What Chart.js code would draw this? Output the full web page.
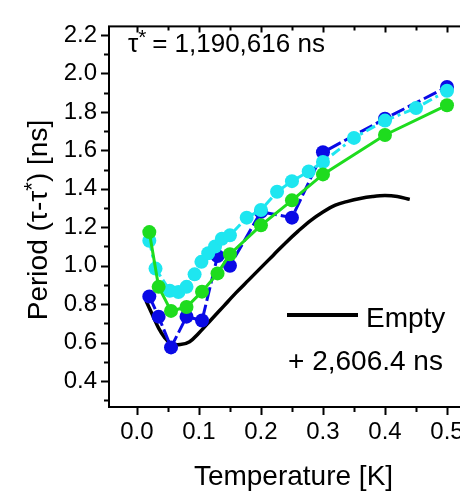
<!DOCTYPE html>
<html>
<head>
<meta charset="utf-8">
<script src="https://cdn.jsdelivr.net/npm/chart.js@4/dist/chart.umd.min.js"></script>
<style>
html, body { margin: 0; padding: 0; background: #fff; overflow: hidden; }
canvas { display: block; }
</style>
</head>
<body>
<canvas id="chart" width="490" height="492"></canvas>
<script>
var FONT = '"Liberation Sans", Arial, sans-serif';

// tick labels
var xTicks = [0.0, 0.1, 0.2, 0.3, 0.4, 0.5];
var yTicks = [0.4, 0.6, 0.8, 1.0, 1.2, 1.4, 1.6, 1.8, 2.0, 2.2];

// blue and green runs share the same temperatures
var runTemps = [0.02, 0.035, 0.055, 0.08, 0.105, 0.13, 0.15, 0.2, 0.25, 0.3, 0.4, 0.5];
var blueValues = [0.84, 0.735, 0.575, 0.735, 0.715, 1.05, 1.0, 1.28, 1.25, 1.59, 1.765, 1.93];
var greenValues = [1.175, 0.89, 0.765, 0.785, 0.865, 0.96, 1.06, 1.21, 1.34, 1.475, 1.68, 1.835];

var cyanTemps = [0.02, 0.03, 0.053, 0.067, 0.08, 0.093, 0.104, 0.115, 0.126, 0.137, 0.15,
    0.177, 0.2, 0.226, 0.25, 0.277, 0.3, 0.35, 0.4, 0.45, 0.5];
var cyanValues = [1.13, 0.985, 0.87, 0.863, 0.89, 0.955, 1.02, 1.065, 1.1, 1.14, 1.158,
    1.25, 1.29, 1.385, 1.44, 1.49, 1.54, 1.665, 1.755, 1.82, 1.91];

// empty cell (+ 2,606.4 ns)
var emptyTemps = [0.015, 0.025, 0.035, 0.045, 0.055, 0.07, 0.085, 0.1, 0.12, 0.14, 0.16, 0.18,
    0.2, 0.22, 0.24, 0.26, 0.28, 0.3, 0.32, 0.34, 0.36, 0.38, 0.4, 0.42, 0.44];
var emptyValues = [0.815, 0.745, 0.675, 0.625, 0.595, 0.59, 0.605, 0.65, 0.72, 0.79, 0.86, 0.925,
    0.99, 1.055, 1.12, 1.18, 1.235, 1.28, 1.315, 1.335, 1.35, 1.36, 1.365, 1.36, 1.345];

function pairs(xs, ys) {
    return xs.map(function (x, i) { return {x: x, y: ys[i]}; });
}

function series(data, color, dash) {
    return {
        data: data,
        borderColor: color,
        backgroundColor: color,
        borderWidth: 3,
        borderDash: dash,
        pointRadius: 7,
        pointHoverRadius: 7,
        pointBorderWidth: 0,
        pointBackgroundColor: color,
        tension: 0
    };
}

// draws text pieces in a row, pieces marked sup are raised and smaller
function drawPieces(ctx, pieces, x, y, size) {
    var total = 0;
    pieces.forEach(function (p) {
        ctx.font = (p.sup ? size * 0.8 : size) + 'px ' + FONT;
        p.w = ctx.measureText(p.t).width;
        total += p.w;
    });
    pieces.forEach(function (p) {
        ctx.font = (p.sup ? size * 0.8 : size) + 'px ' + FONT;
        ctx.fillText(p.t, x, p.sup ? y - size * 0.3 : y);
        x += p.w;
    });
    return total;
}

var frame = {
    id: 'frame',
    afterDraw: function (chart) {
        var ctx = chart.ctx;
        var a = chart.chartArea;
        var sx = chart.scales.x;
        var sy = chart.scales.y;
        var i, p, len;

        ctx.save();
        ctx.strokeStyle = '#000';
        ctx.fillStyle = '#000';
        ctx.lineWidth = 2;
        ctx.strokeRect(a.left, a.top, a.right - a.left, a.bottom - a.top);

        ctx.beginPath();
        for (i = 0; i <= 11; i++) {
            p = Math.round(sx.getPixelForValue(i * 0.05)) + 0.5;
            len = i % 2 === 0 ? 8 : 5;
            ctx.moveTo(p, a.bottom);
            ctx.lineTo(p, a.bottom + len);
            ctx.moveTo(p, a.top);
            ctx.lineTo(p, a.top + (i % 2 === 0 ? 6 : 4));
        }
        for (i = 3; i <= 22; i++) {
            p = Math.round(sy.getPixelForValue(i / 10)) + 0.5;
            len = i % 2 === 0 ? 8 : 5;
            ctx.moveTo(a.left, p);
            ctx.lineTo(a.left - len, p);
            ctx.moveTo(a.right, p);
            ctx.lineTo(a.right - len, p);
        }
        ctx.stroke();

        ctx.textBaseline = 'alphabetic';
        ctx.textAlign = 'left';

        // offset note
        drawPieces(ctx, [{t: 'τ'}, {t: '* ', sup: true}, {t: '= 1,190,616 ns'}], 128, 52, 26);

        // legend
        ctx.lineWidth = 4;
        ctx.beginPath();
        ctx.moveTo(287, 315);
        ctx.lineTo(358, 315);
        ctx.stroke();
        ctx.font = '28px ' + FONT;
        ctx.fillText('Empty', 366, 327);
        ctx.fillText('+ 2,606.4 ns', 288, 370);

        // x title
        ctx.font = '28px ' + FONT;
        ctx.textAlign = 'center';
        ctx.fillText('Temperature [K]', (a.left + a.right) / 2, 485);

        // y title
        ctx.translate(47, 220);
        ctx.rotate(-Math.PI / 2);
        ctx.textAlign = 'left';
        var yTitle = [{t: 'Period (τ-τ'}, {t: '*', sup: true}, {t: ') [ns]'}];
        var w = 0;
        yTitle.forEach(function (q) {
            ctx.font = (q.sup ? 28 * 0.8 : 28) + 'px ' + FONT;
            w += ctx.measureText(q.t).width;
        });
        drawPieces(ctx, yTitle, -w / 2, 0, 28);
        ctx.restore();
    }
};

new Chart(document.getElementById('chart'), {
    type: 'line',
    data: {
        datasets: [
            series(pairs(runTemps, greenValues), '#1edc1e', []),
            series(pairs(cyanTemps, cyanValues), '#1ee6f0', [10, 4, 3, 4]),
            series(pairs(runTemps, blueValues), '#0a0ae6', [14, 4]),
            {
                data: pairs(emptyTemps, emptyValues),
                borderColor: '#000',
                borderWidth: 3.5,
                pointRadius: 0,
                tension: 0.35
            }
        ]
    },
    plugins: [frame],
    options: {
        responsive: false,
        animation: false,
        events: [],
        layout: {padding: {left: 0, top: 11, right: 12, bottom: 0}},
        plugins: {legend: {display: false}, tooltip: {enabled: false}},
        scales: {
            x: {
                type: 'linear',
                min: -0.045,
                max: 0.55,
                grid: {display: false, drawTicks: false},
                border: {display: false},
                afterBuildTicks: function (s) {
                    s.ticks = xTicks.map(function (v) { return {value: v}; });
                },
                afterFit: function (s) { s.height = 85; },
                ticks: {
                    padding: 11,
                    color: '#000',
                    font: {family: FONT, size: 24},
                    maxRotation: 0,
                    callback: function (v) { return v.toFixed(1); }
                }
            },
            y: {
                type: 'linear',
                min: 0.265,
                max: 2.245,
                grid: {display: false, drawTicks: false},
                border: {display: false},
                afterBuildTicks: function (s) {
                    s.ticks = yTicks.map(function (v) { return {value: v}; });
                },
                afterFit: function (s) { s.width = 109; },
                ticks: {
                    padding: 12,
                    color: '#000',
                    font: {family: FONT, size: 24},
                    callback: function (v) { return v.toFixed(1); }
                }
            }
        }
    }
});
</script>
</body>
</html>
